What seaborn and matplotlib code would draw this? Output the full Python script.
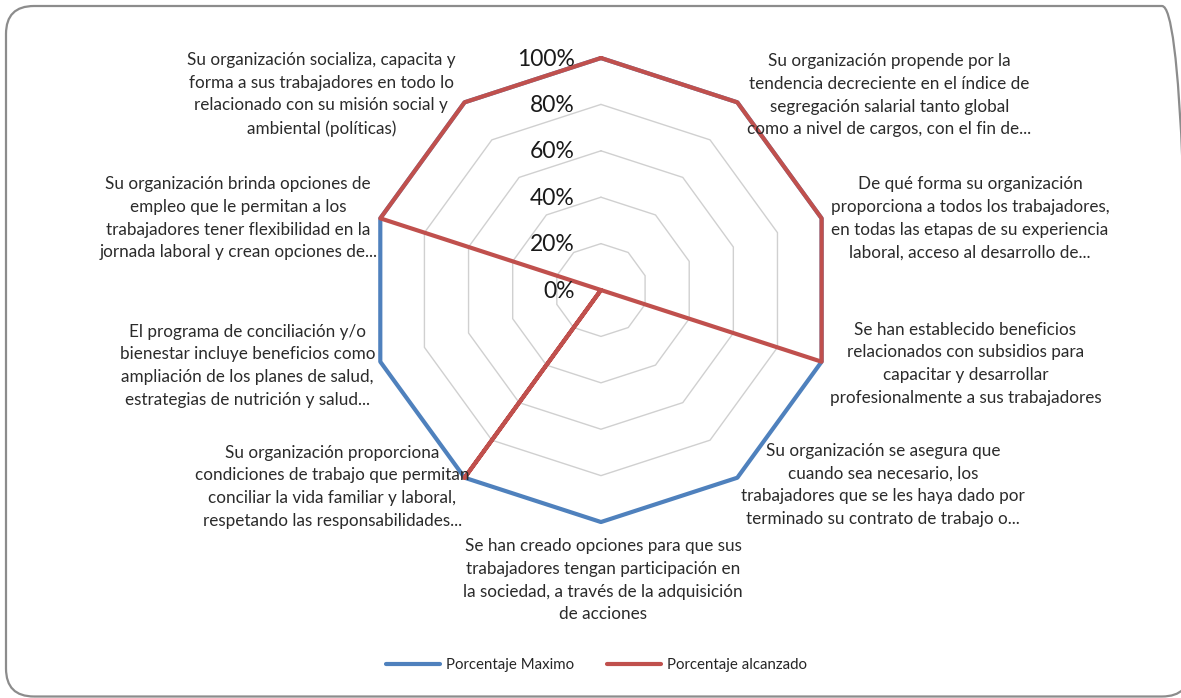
import numpy as np
import pandas as pd
import matplotlib
matplotlib.use("Agg")
import matplotlib.pyplot as plt
import seaborn as sns
from matplotlib.patches import FancyBboxPatch
from matplotlib.lines import Line2D

categories = [
    "",
    "Su organización propende por la\ntendencia decreciente en el índice de\nsegregación salarial tanto global\ncomo a nivel de cargos, con el fin de...",
    "De qué forma su organización\nproporciona a todos los trabajadores,\nen todas las etapas de su experiencia\nlaboral, acceso al desarrollo de...",
    "Se han establecido beneficios\nrelacionados con subsidios para\ncapacitar y desarrollar\nprofesionalmente a sus trabajadores",
    "Su organización se asegura que\ncuando sea necesario, los\ntrabajadores que se les haya dado por\nterminado su contrato de trabajo o...",
    "Se han creado opciones para que sus\ntrabajadores tengan participación en\nla sociedad, a través de la adquisición\nde acciones",
    "Su organización proporciona\ncondiciones de trabajo que permitan\nconciliar la vida familiar y laboral,\nrespetando las responsabilidades...",
    "El programa de conciliación y/o\nbienestar incluye beneficios como\nampliación de los planes de salud,\nestrategias de nutrición y salud...",
    "Su organización brinda opciones de\nempleo que le permitan a los\ntrabajadores tener flexibilidad en la\njornada laboral y crean opciones de...",
    "Su organización socializa, capacita y\nforma a sus trabajadores en todo lo\nrelacionado con su misión social y\nambiental (políticas)",
]
porcentaje_maximo = [1, 1, 1, 1, 1, 1, 1, 1, 1, 1]
porcentaje_alcanzado = [1, 1, 1, 1, 0, 0, 1, 0, 1, 1]
series_names = ["Porcentaje Maximo", "Porcentaje alcanzado"]
tick_values = [0, 0.2, 0.4, 0.6, 0.8, 1.0]
tick_labels = ["0%", "20%", "40%", "60%", "80%", "100%"]

colors = {"Porcentaje Maximo": "#4F81BD", "Porcentaje alcanzado": "#C0504D"}

sns.set_theme(style="white")
plt.rcParams["font.family"] = ["Lato", "DejaVu Sans"]

n = len(categories)
theta = np.arange(n) * 2 * np.pi / n
theta_closed = np.append(theta, 2 * np.pi)

rows = []
for name, vals in zip(series_names, [porcentaje_maximo, porcentaje_alcanzado]):
    vc = list(vals) + [vals[0]]
    for t, v in zip(theta_closed, vc):
        rows.append({"theta": t, "valor": v, "serie": name})
df = pd.DataFrame(rows)

fig = plt.figure(figsize=(11.81, 6.98), dpi=100)
ax = fig.add_axes([0.3124, 0.2521, 0.3929, 0.6648], projection="polar")
ax.set_theta_zero_location("N")
ax.set_theta_direction(-1)
ax.set_ylim(0, 1)
ax.grid(False)
ax.spines["polar"].set_visible(False)
ax.set_xticks([])
ax.set_yticks([])
ax.patch.set_alpha(0)

# polygon gridlines
for lv in tick_values[1:]:
    ax.plot(theta_closed, [lv] * (n + 1), color="#D0D0D0", lw=1.0, zorder=1, clip_on=False)

sns.lineplot(data=df, x="theta", y="valor", hue="serie", palette=colors,
             sort=False, estimator=None, ax=ax, linewidth=3, legend=False, zorder=3)
for l in ax.lines:
    l.set_clip_on(False)
ax.set_xlabel("")
ax.set_ylabel("")
ax.set_xticks([])
ax.set_yticks([])

# r tick labels
for v, lab in zip(tick_values, tick_labels):
    ax.annotate(lab, xy=(0, v), xytext=(-26, -1), textcoords="offset pixels",
                ha="right", va="center", fontsize=16.5, color="#1a1a1a", zorder=5)

# category labels
offsets = [
    (0, 10, "center", "bottom"),
    (10, 7, "left", "center"),
    (9, 0, "left", "center"),
    (8, -2, "left", "center"),
    (4, -7, "left", "center"),
    (2, -16, "center", "top"),
    (5, -9, "right", "center"),
    (-5, -4, "right", "center"),
    (-3, 0, "right", "center"),
    (-9, 8, "right", "center"),
]
for t, lab, (dx, dy, ha, va) in zip(theta, categories, offsets):
    ax.annotate(lab, xy=(t, 1), xytext=(dx, dy), textcoords="offset pixels",
                ha=ha, va=va, multialignment="center", fontsize=12.3,
                color="#2b2b2b", linespacing=1.52, zorder=6)

handles = [Line2D([0], [0], color=colors[s], lw=3) for s in series_names]
fig.legend(handles, series_names, loc="center", bbox_to_anchor=(0.505, 1 - 665 / 698),
           ncol=2, frameon=False, fontsize=10.8, handlelength=3.6, columnspacing=2.2,
           handletextpad=0.4)

border = FancyBboxPatch((6, 1.5), 1184, 690.5, boxstyle="round,pad=0,rounding_size=28",
                        transform=None, facecolor="none", edgecolor="#8C8C8C", lw=1.6,
                        clip_on=False)
fig.patches.append(border)

fig.savefig("out.png", dpi=100)
